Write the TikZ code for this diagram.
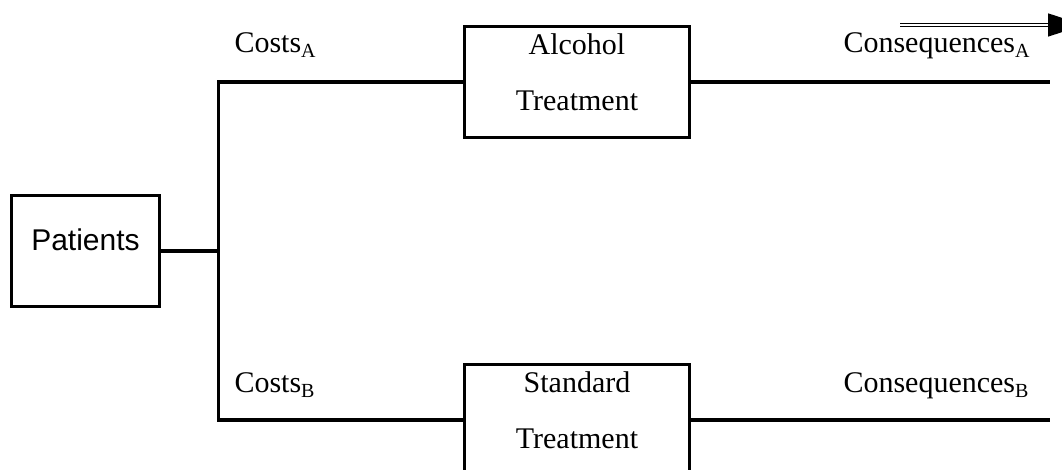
\documentclass[12pt,tikz,border=0pt]{standalone}
\usepackage{fontspec}
\setmainfont{Liberation Serif}
\setsansfont{Liberation Sans}
\usepackage{tikz}
\usetikzlibrary{arrows.meta}
\usetikzlibrary{positioning}
\tikzset{
    box/.style={
        draw,
        rectangle,
        line width=1.25pt,
        inner sep=0pt
    },
    treatbox/.style={
        box,
        minimum width=90.2pt,
        minimum height=44.7pt,
        align=center,
        font=\fontsize{12}{22.4}\selectfont,
        text depth=8.3pt
    },
    branch/.style={
        line width=1.25pt
    },
    lbl/.style={
        inner sep=0pt,
        anchor=base west
    }
}

\begin{document}
\begin{tikzpicture}[x=0.4pt, y=-0.4pt]
    \useasboundingbox (0,0) rectangle (1062,470);
    \clip (0,0) rectangle (1062,470);

    % Boxes
    \node[box, minimum width=59.2pt, minimum height=44.4pt,
          font=\sffamily, text height=8.6pt, text depth=8.6pt]
          (pat) at (85.5,251) {Patients};
    \node[treatbox] (alc) at (577,82) {Alcohol\\Treatment};
    \node[treatbox] (std) at (577,420) {Standard\\Treatment};

    % Labels
    \node[lbl] (costA) at (234,53) {Costs\textsubscript{A}};
    \node[lbl] (costB) at (234,393) {Costs\textsubscript{B}};
    \node[lbl] (consA) at (843,53) {Consequences\textsubscript{A}};
    \node[lbl] (consB) at (843,393) {Consequences\textsubscript{B}};

    % Branches
    \coordinate (split) at (218.5,251);
    \coordinate (endA) at (1050,82);
    \coordinate (endB) at (1050,420);
    \draw[branch] (pat.east) -- (split);
    \draw[branch] (alc.west) -| (split) |- (std.west);
    \draw[branch] (alc.east) -- (endA);
    \draw[branch] (std.east) -- (endB);

    % Arrow
    \coordinate (arrS) at (900,25);
    \coordinate (arrE) at (1084,25);
    \draw[line width=0.6pt, double, double distance=0.45pt,
          -{Triangle[length=14.4pt, width=9.2pt]}] (arrS) -- (arrE);
\end{tikzpicture}
\end{document}
